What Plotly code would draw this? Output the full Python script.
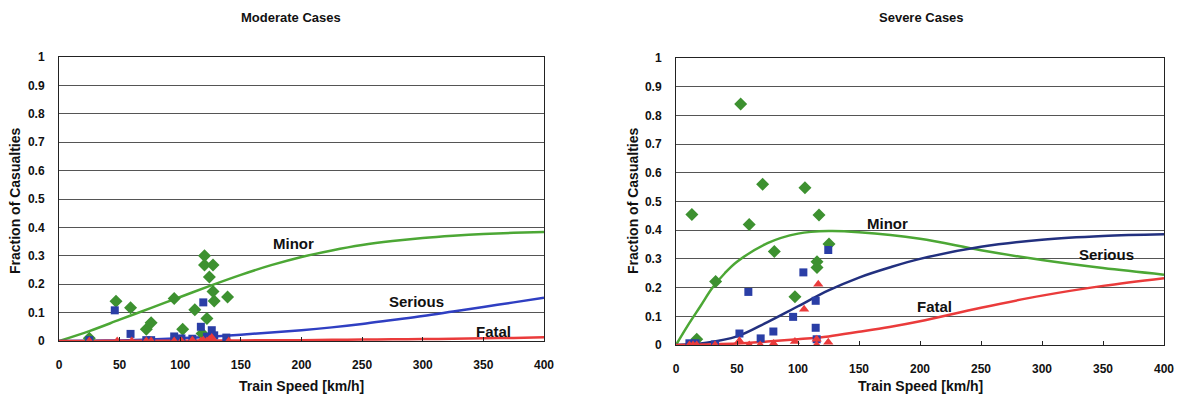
import plotly.graph_objects as go

# ---------------- Moderate cases (left) ----------------
mod_curve_speed = [0, 25, 50, 75, 100, 125, 150, 175, 200, 225, 250, 275, 300, 325, 350, 375, 400]
mod_minor_curve = [0, 0.035, 0.075, 0.115, 0.155, 0.195, 0.233, 0.267, 0.296, 0.319, 0.338, 0.352, 0.363, 0.371, 0.377, 0.381, 0.384]
mod_serious_curve = [0, 0.001, 0.002, 0.005, 0.01, 0.015, 0.022, 0.03, 0.038, 0.048, 0.06, 0.074, 0.088, 0.104, 0.12, 0.136, 0.152]
mod_fatal_curve = [0, 0, 0.001, 0.001, 0.001, 0.002, 0.002, 0.003, 0.003, 0.004, 0.005, 0.006, 0.007, 0.008, 0.01, 0.011, 0.013]

mod_minor_x = [25, 47, 59, 72, 76, 95, 102, 112, 120, 120, 127, 124, 127, 128, 139, 122, 118]
mod_minor_y = [0.01, 0.14, 0.117, 0.041, 0.064, 0.15, 0.041, 0.11, 0.30, 0.268, 0.268, 0.225, 0.174, 0.141, 0.155, 0.079, 0.026]

mod_serious_x = [25, 46, 59, 72, 76, 95, 101, 110, 117, 119, 122, 126, 128, 138]
mod_serious_y = [0.003, 0.108, 0.025, 0.003, 0.003, 0.016, 0.009, 0.008, 0.05, 0.136, 0.015, 0.038, 0.02, 0.012]

mod_fatal_x = [25, 48, 60, 72, 76, 95, 101, 110, 117, 119, 122, 124, 126, 128, 140]
mod_fatal_y = [0.0, 0.0, 0.0, 0.0, 0.0, 0.0, 0.0, 0.003, 0.0, 0.003, 0.0, 0.005, 0.012, 0.0, 0.0]

# ---------------- Severe cases (right) ----------------
sev_minor_speed = [0, 10, 20, 30, 40, 50, 75, 100, 125, 150, 200, 250, 300, 350, 400]
sev_minor_curve = [0, 0.07, 0.135, 0.2, 0.25, 0.29, 0.355, 0.388, 0.397, 0.393, 0.37, 0.33, 0.296, 0.268, 0.245]

sev_curve_speed = [0, 25, 50, 75, 100, 125, 150, 175, 200, 250, 300, 350, 400]
sev_serious_curve = [0, 0.008, 0.03, 0.08, 0.135, 0.19, 0.235, 0.27, 0.3, 0.342, 0.367, 0.38, 0.386]
sev_fatal_curve = [0, 0.002, 0.005, 0.012, 0.02, 0.03, 0.046, 0.063, 0.083, 0.13, 0.172, 0.206, 0.233]

sev_minor_x = [13, 17, 32.5, 53, 60, 71, 80.6, 97.5, 105.7, 117.2, 115.6, 115.6, 125.4]
sev_minor_y = [0.455, 0.02, 0.221, 0.84, 0.42, 0.56, 0.326, 0.168, 0.548, 0.453, 0.29, 0.27, 0.352]

sev_serious_x = [11, 16, 32, 52, 59.3, 69.4, 79.8, 96, 104.4, 114.5, 114.5, 115.3, 124.8]
sev_serious_y = [0.006, 0.006, 0.002, 0.04, 0.185, 0.023, 0.047, 0.098, 0.253, 0.154, 0.06, 0.02, 0.331]

sev_fatal_x = [11, 14, 17, 32, 52, 60, 69, 80, 97.5, 105, 116.6, 115.3, 115.3, 124.8]
sev_fatal_y = [0.0, 0.0, 0.0, 0.0, 0.015, 0.0, 0.0, 0.005, 0.012, 0.125, 0.212, 0.02, 0.0, 0.01]

x_ticks = [0, 50, 100, 150, 200, 250, 300, 350, 400]
y_ticks = [0, 0.1, 0.2, 0.3, 0.4, 0.5, 0.6, 0.7, 0.8, 0.9, 1]
y_tick_text = ["0", "0.1", "0.2", "0.3", "0.4", "0.5", "0.6", "0.7", "0.8", "0.9", "1"]

GREEN_LINE = "#4ca735"
GREEN_MK = "#3d9130"
BLUE_L = "#2f3fc2"
NAVY = "#22307f"
BLUE_MK = "#2a3ea6"
RED = "#ea3b3b"
FONT = "Liberation Sans"

fig = go.Figure()

def add_set(xa, ya, curve_x_minor, minor, curve_x, serious, fatal, serious_color,
            mx, my, sx, sy, fx, fy):
    kw = dict(xaxis=xa, yaxis=ya, showlegend=False, hoverinfo="skip")
    fig.add_trace(go.Scatter(x=curve_x_minor, y=minor, mode="lines",
                             line=dict(color=GREEN_LINE, width=2.5, shape="spline"), **kw))
    fig.add_trace(go.Scatter(x=curve_x, y=serious, mode="lines",
                             line=dict(color=serious_color, width=2.5, shape="spline"), **kw))
    fig.add_trace(go.Scatter(x=curve_x, y=fatal, mode="lines",
                             line=dict(color=RED, width=2.5, shape="spline"), **kw))
    fig.add_trace(go.Scatter(x=mx, y=my, mode="markers",
                             marker=dict(symbol="diamond", size=10, color=GREEN_MK), **kw))
    fig.add_trace(go.Scatter(x=sx, y=sy, mode="markers",
                             marker=dict(symbol="square", size=8, color=BLUE_MK), **kw))
    fig.add_trace(go.Scatter(x=fx, y=fy, mode="markers",
                             marker=dict(symbol="triangle-up", size=9, color=RED), **kw))

add_set("x", "y", mod_curve_speed, mod_minor_curve, mod_curve_speed, mod_serious_curve,
        mod_fatal_curve, BLUE_L, mod_minor_x, mod_minor_y, mod_serious_x, mod_serious_y,
        mod_fatal_x, mod_fatal_y)
add_set("x2", "y2", sev_minor_speed, sev_minor_curve, sev_curve_speed, sev_serious_curve,
        sev_fatal_curve, NAVY, sev_minor_x, sev_minor_y, sev_serious_x, sev_serious_y,
        sev_fatal_x, sev_fatal_y)

W, H = 1186, 401
tickfont = dict(family=FONT, size=12, color="#111", weight="bold")

def xaxis(dom, anchor):
    return dict(domain=dom, anchor=anchor, range=[0, 400], tickvals=x_ticks,
                ticktext=[str(v) for v in x_ticks], showgrid=False, zeroline=False,
                showline=True, linecolor="#222", linewidth=1, mirror=True,
                ticks="inside", ticklen=4, tickcolor="#222", tickfont=tickfont,
                ticklabelstandoff=13, automargin=False, fixedrange=True)

def yaxis(dom, anchor):
    return dict(domain=dom, anchor=anchor, range=[0, 1], tickvals=y_ticks,
                ticktext=y_tick_text, showgrid=True, gridcolor="#555", gridwidth=1,
                zeroline=False, showline=True, linecolor="#222", linewidth=1, mirror=True,
                ticks="", tickfont=tickfont, ticklabelstandoff=11, automargin=False,
                fixedrange=True)

fig.update_layout(
    width=W, height=H, margin=dict(l=0, r=0, t=0, b=0, autoexpand=False),
    paper_bgcolor="white", plot_bgcolor="white",
    xaxis=xaxis([59 / W, 544 / W], "y"),
    yaxis=yaxis([(H - 341) / H, (H - 57) / H], "x"),
    xaxis2=xaxis([676 / W, 1164 / W], "y2"),
    yaxis2=yaxis([(H - 345) / H, (H - 58) / H], "x2"),
)

def ann(text, x, y, xref="paper", yref="paper", size=13, angle=0, **k):
    fig.add_annotation(text=text, x=x, y=y, xref=xref, yref=yref, showarrow=False,
                       textangle=angle, xanchor="center", yanchor="middle",
                       font=dict(family=FONT, size=size, color="#111", weight="bold"), **k)

# titles
ann("Moderate Cases", 291 / W, 1 - 17 / H, size=13)
ann("Severe Cases", 921 / W, 1 - 17 / H, size=13)
# axis titles
ann("Train Speed [km/h]", 301 / W, 1 - 386 / H, size=14)
ann("Train Speed [km/h]", 920 / W, 1 - 386 / H, size=14)
ann("Fraction of Casualties", 15 / W, 1 - 201 / H, size=14, angle=-90)
ann("Fraction of Casualties", 633 / W, 1 - 201 / H, size=14, angle=-90)
# curve labels
ann("Minor", 193, 0.345, "x", "y", size=15)
ann("Serious", 295, 0.14, "x", "y", size=15)
ann("Fatal", 358, 0.035, "x", "y", size=15)
ann("Minor", 173, 0.425, "x2", "y2", size=15)
ann("Serious", 353, 0.317, "x2", "y2", size=15)
ann("Fatal", 212, 0.135, "x2", "y2", size=15)

fig.write_html("out.html")
